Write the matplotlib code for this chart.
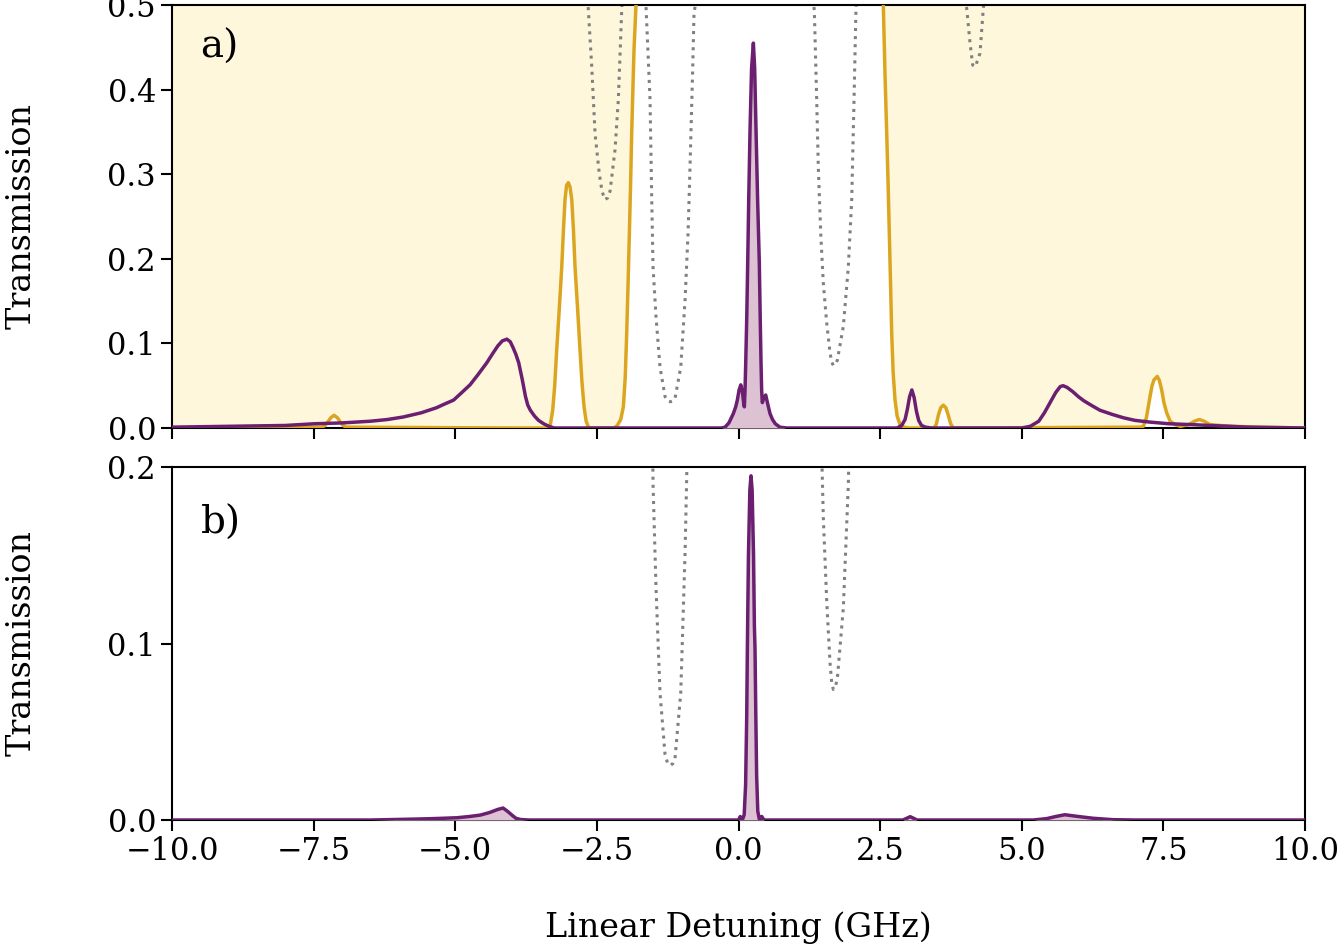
import numpy as np
import matplotlib
matplotlib.use('Agg')
import matplotlib.pyplot as plt

plt.rcParams['font.family'] = ['DejaVu Serif']

# FILTER (GOLD) TRANSMISSION
gold_x = [-10, -8.0, -7.35, -7.3, -7.25, -7.2, -7.14, -7.08, -7.03, -6.98, -6.93, -4.0,
          -3.36, -3.32, -3.28, -3.245, -3.21, -3.165, -3.121, -3.09, -3.063, -3.035, -3.004,
          -2.975, -2.944, -2.915, -2.886, -2.84, -2.798, -2.765, -2.727, -2.69, -2.65, -2.6,
          -2.2, -2.14, -2.08, -2.033, -2.0, -1.974, -1.95, -1.927, -1.905, -1.886, -1.865,
          -1.845, -1.81, -1.7, -1.5, 2.3, 2.45, 2.52, 2.556, 2.585, 2.616, 2.64, 2.662,
          2.684, 2.704, 2.73, 2.763, 2.8, 2.851, 2.92, 3.0, 3.45, 3.49, 3.527, 3.57, 3.615,
          3.66, 3.703, 3.745, 3.79, 7.1, 7.146, 7.2, 7.264, 7.3, 7.335, 7.393, 7.43, 7.47,
          7.51, 7.558, 7.62, 7.705, 7.8, 7.95, 8.05, 8.135, 8.22, 8.32, 8.5, 8.73, 9.2, 10]
gold_y = [0.0, 0.001, 0.001, 0.003, 0.007, 0.012, 0.015, 0.012, 0.007, 0.003, 0.001, 0.0,
          0.0, 0.005, 0.021, 0.05, 0.092, 0.14, 0.19, 0.235, 0.27, 0.287, 0.29,
          0.285, 0.27, 0.235, 0.19, 0.14, 0.092, 0.055, 0.025, 0.008, 0.001, 0.0,
          0.0, 0.003, 0.01, 0.025, 0.06, 0.112, 0.17, 0.23, 0.29, 0.348, 0.40,
          0.447, 0.5, 0.8, 0.95, 0.95, 0.8, 0.6, 0.5, 0.42, 0.348, 0.29, 0.23,
          0.17, 0.112, 0.065, 0.033, 0.014, 0.004, 0.001, 0.0, 0.0, 0.004, 0.015, 0.024, 0.027,
          0.024, 0.015, 0.005, 0.0, 0.001, 0.002, 0.012, 0.037, 0.05, 0.057, 0.061, 0.056, 0.045,
          0.03, 0.018, 0.008, 0.004, 0.002, 0.004, 0.008, 0.01, 0.008, 0.004, 0.003, 0.002, 0.001, 0.0]

# GRAY DOTTED REFERENCE CURVE
gray_x = [-10, -2.8, -2.651, -2.591, -2.533, -2.457, -2.41, -2.36, -2.31, -2.268, -2.18,
          -2.122, -2.062, -1.85, -1.633, -1.562, -1.532, -1.509, -1.456, -1.386, -1.297,
          -1.25, -1.2, -1.16, -1.121, -1.02, -0.944, -0.891, -0.856, -0.808, -0.786, 0.3,
          1.338, 1.38, 1.408, 1.451, 1.497, 1.557, 1.615, 1.645, 1.673, 1.705, 1.744, 1.85,
          1.938, 1.998, 2.039, 2.074, 3.0, 4.028, 4.087, 4.134, 4.18, 4.263, 4.321, 5.0, 10]
gray_y = [0.9, 0.7, 0.494, 0.427, 0.348, 0.30, 0.28, 0.27, 0.272, 0.28, 0.329,
          0.388, 0.494, 0.9, 0.498, 0.388, 0.27, 0.19, 0.131, 0.072, 0.037,
          0.032, 0.031, 0.032, 0.035, 0.072, 0.151, 0.23, 0.309, 0.427, 0.49, 0.95,
          0.494, 0.388, 0.309, 0.23, 0.171, 0.124, 0.089, 0.078, 0.074, 0.075, 0.08, 0.12,
          0.19, 0.27, 0.388, 0.498, 0.9, 0.496, 0.455, 0.429, 0.427, 0.443, 0.496, 0.9, 0.9]

# PURPLE TRANSMISSION, PANEL A
pa_x = [-10, -9.0, -8.0, -7.49, -7.0, -6.5, -6.2, -5.92, -5.6, -5.33, -5.2, -5.03, -4.9,
        -4.74, -4.6, -4.445, -4.34, -4.25, -4.17, -4.09, -4.03, -3.98, -3.93, -3.88, -3.82,
        -3.76, -3.72, -3.675, -3.6, -3.53, -3.44, -3.35, -3.25, -0.3, -0.238, -0.17,
        -0.092, -0.05, -0.021, 0.01, 0.04, 0.07, 0.09, 0.103, 0.115, 0.127, 0.145, 0.162,
        0.18, 0.203, 0.23, 0.262, 0.285, 0.309, 0.337, 0.367, 0.383, 0.397, 0.408, 0.42,
        0.45, 0.48, 0.51, 0.556, 0.6, 0.65, 0.73, 0.85, 2.8, 2.88, 2.94, 2.98, 3.02, 3.06,
        3.1, 3.14, 3.18, 3.23, 3.3, 3.4, 5.0, 5.15, 5.3, 5.4, 5.5, 5.6, 5.68, 5.73, 5.8,
        5.9, 6.0, 6.1, 6.25, 6.38, 6.6, 6.8, 7.0, 7.26, 7.6, 8.0, 8.32, 9.0, 10]
pa_y = [0.001, 0.002, 0.003, 0.005, 0.006, 0.008, 0.01, 0.013, 0.018, 0.024, 0.028, 0.033, 0.041,
        0.051, 0.063, 0.077, 0.088, 0.097, 0.103, 0.105, 0.102, 0.095, 0.087, 0.077, 0.058,
        0.037, 0.027, 0.021, 0.014, 0.009, 0.005, 0.002, 0.0, 0.0, 0.001, 0.006,
        0.017, 0.025, 0.033, 0.045, 0.051, 0.042, 0.03, 0.025, 0.045, 0.077, 0.13, 0.195,
        0.27, 0.352, 0.425, 0.455, 0.425, 0.352, 0.27, 0.195, 0.13, 0.077, 0.045, 0.03,
        0.036, 0.039, 0.03, 0.017, 0.01, 0.005, 0.001, 0.0, 0.0, 0.003, 0.01, 0.022, 0.037, 0.045,
        0.036, 0.02, 0.009, 0.003, 0.001, 0.0, 0.0, 0.002, 0.008, 0.018, 0.03, 0.042, 0.049, 0.05, 0.048,
        0.043, 0.037, 0.032, 0.026, 0.021, 0.016, 0.012, 0.009, 0.007, 0.005, 0.004, 0.003, 0.001, 0.0]

# PURPLE TRANSMISSION, PANEL B
pb_x = [-10, -6.5, -5.62, -5.3, -4.97, -4.75, -4.56, -4.4, -4.25, -4.157, -4.08, -4.0,
        -3.93, -3.85, -3.7, 0.0, 0.03, 0.07, 0.1, 0.125, 0.145, 0.156, 0.175, 0.2, 0.22,
        0.24, 0.265, 0.28, 0.291, 0.305, 0.32, 0.34, 0.37, 0.41, 0.45, 2.9, 2.97, 3.03,
        3.09, 3.15, 5.2, 5.44, 5.6, 5.76, 6.0, 6.26, 6.61, 7.0, 10]
pb_y = [0.0, 0.0, 0.0006, 0.0009, 0.0013, 0.002, 0.0028, 0.0042, 0.006, 0.0068, 0.005, 0.0028,
        0.001, 0.0003, 0.0, 0.0, 0.002, 0.0003, 0.003, 0.02, 0.06, 0.0975, 0.15, 0.187, 0.195,
        0.187, 0.15, 0.11, 0.0975, 0.06, 0.025, 0.005, 0.0, 0.002, 0.0, 0.0, 0.001, 0.0019,
        0.001, 0.0, 0.0, 0.0008, 0.002, 0.003, 0.002, 0.001, 0.0002, 0.0, 0.0]

purple = '#6b1f70'
fillc = '#dcc2d2'
gold = '#dba520'
shade = '#fef7dc'

fig = plt.figure(figsize=(13.39, 9.49), dpi=100)
ax1 = fig.add_axes([0.1285, 0.549, 0.8461, 0.4457])
ax2 = fig.add_axes([0.1285, 0.1359, 0.8461, 0.372])

# PANEL A
ax1.fill_between(gold_x, gold_y, 1, color=shade, lw=0, zorder=1)
ax1.plot(gray_x, gray_y, color='gray', ls=':', lw=2.2, zorder=2)
ax1.plot(gold_x, gold_y, color=gold, lw=2.5, zorder=3)
cx = np.array(pa_x)
cy = np.array(pa_y)
mid = (cx > -0.5) & (cx < 0.9)
ax1.fill_between(cx[mid], cy[mid], 0, color=fillc, lw=0, zorder=4)
ax1.plot(pa_x, pa_y, color=purple, lw=2.5, zorder=5)
ax1.set_ylim(0, 0.5)
ax1.set_yticks([0.0, 0.1, 0.2, 0.3, 0.4, 0.5])
ax1.set_xticklabels([])
ax1.text(0.025, 0.9, 'a)', transform=ax1.transAxes, fontsize=28, va='center')

# PANEL B
ax2.plot(gray_x, gray_y, color='gray', ls=':', lw=2.2, zorder=2)
ax2.fill_between(pb_x, pb_y, 0, color=fillc, lw=0, zorder=4)
ax2.plot(pb_x, pb_y, color=purple, lw=2.5, zorder=5)
ax2.set_ylim(0, 0.2)
ax2.set_yticks([0.0, 0.1, 0.2])
ax2.set_xlabel('Linear Detuning (GHz)', fontsize=24, labelpad=32)
ax2.text(0.025, 0.84, 'b)', transform=ax2.transAxes, fontsize=28, va='center')

for ax in (ax1, ax2):
    ax.set_xlim(-10, 10)
    ax.set_xticks(np.arange(-10, 10.1, 2.5))
    ax.set_ylabel('Transmission', fontsize=24, labelpad=50)
    ax.tick_params(labelsize=22, length=8, width=1.5)
    for s in ax.spines.values():
        s.set_linewidth(1.5)

fig.savefig('out.png', dpi=100)
